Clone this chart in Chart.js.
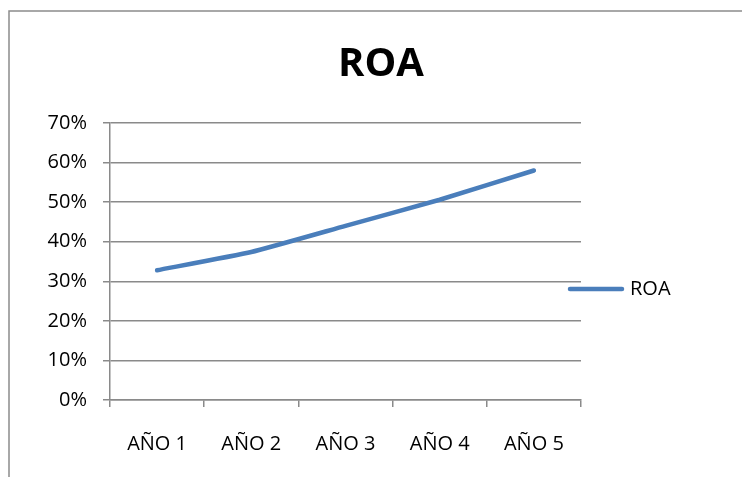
<!DOCTYPE html>
<html>
<head>
<meta charset="utf-8">
<title>ROA</title>
<script src="https://cdn.jsdelivr.net/npm/chart.js@4"></script>
<style>
  body { margin: 0; background: #fff; }
  canvas { display: block; }
</style>
</head>
<body>
<canvas id="roaChart" width="742" height="477"></canvas>
<script>
// Data
const years = ['AÑO 1', 'AÑO 2', 'AÑO 3', 'AÑO 4', 'AÑO 5'];
const roaValues = [32.8, 37.4, 44.0, 50.6, 58.0]; // percent
const seriesName = 'ROA';
const yTicks = [0, 10, 20, 30, 40, 50, 60, 70];

const FONT = '"Open Sans", "Liberation Sans", sans-serif';
const GRID = '#8a8a8a';

// Outer frame of the chart object (Excel style)
const framePlugin = {
    id: 'frame',
    beforeDraw(chart) {
        const c = chart.ctx;
        c.save();
        c.fillStyle = '#fff';
        c.fillRect(0, 0, chart.width, chart.height);
        c.strokeStyle = '#8c8c8c';
        c.lineWidth = 1.5;
        c.beginPath();
        c.moveTo(9, chart.height);
        c.lineTo(9, 11);
        c.lineTo(chart.width, 11);
        c.stroke();
        c.restore();
    }
};

// Legend on the right, overlapping the plot edge like in Excel
const sideLegend = {
    id: 'sideLegend',
    afterDraw(chart) {
        const ds = chart.data.datasets[0];
        const c = chart.ctx;
        const y = 289;
        c.save();
        c.strokeStyle = ds.borderColor;
        c.lineWidth = ds.borderWidth;
        c.lineCap = 'round';
        c.beginPath();
        c.moveTo(570, y);
        c.lineTo(622, y);
        c.stroke();
        c.fillStyle = '#000';
        c.font = '20px ' + FONT;
        c.textBaseline = 'middle';
        c.fillText(ds.label, 630, y);
        c.restore();
    }
};

new Chart(document.getElementById('roaChart'), {
    type: 'line',
    data: {
        labels: years,
        datasets: [{
            label: seriesName,
            data: roaValues,
            borderColor: '#4a7ebb',
            borderWidth: 4.5,
            borderCapStyle: 'round',
            borderJoinStyle: 'round',
            pointRadius: 0,
            tension: 0.15,
            fill: false
        }]
    },
    options: {
        responsive: false,
        animation: false,
        devicePixelRatio: 1,
        layout: { padding: { left: 20, right: 0, top: 0, bottom: 0 } },
        plugins: {
            legend: { display: false },
            tooltip: { enabled: false },
            title: {
                display: true,
                text: 'ROA',
                color: '#000',
                font: { family: FONT, size: 40, weight: 'bold', lineHeight: 1 },
                padding: { top: 45, bottom: 38 }
            }
        },
        scales: {
            x: {
                offset: true,
                grid: {
                    offset: true,
                    drawOnChartArea: false,
                    drawTicks: true,
                    tickLength: 7,
                    color: GRID,
                    lineWidth: 1.5
                },
                border: { color: GRID, width: 1.5 },
                ticks: {
                    color: '#000',
                    font: { family: FONT, size: 20 },
                    padding: 25,
                    maxRotation: 0
                },
                afterFit(scale) { scale.height = 77; }
            },
            y: {
                min: 0,
                max: 70,
                afterBuildTicks(scale) {
                    scale.ticks = yTicks.map(v => ({ value: v }));
                },
                grid: {
                    color: GRID,
                    lineWidth: 1.5,
                    tickLength: 7
                },
                border: { color: GRID, width: 1.5 },
                ticks: {
                    color: '#000',
                    font: { family: FONT, size: 20 },
                    padding: 16,
                    callback: v => v + '%'
                },
                afterFit(scale) { scale.width = 90; }
            },
            // empty box that keeps room for the legend on the right
            legendSpace: {
                type: 'linear',
                position: 'right',
                display: true,
                grid: { display: false, drawOnChartArea: false },
                border: { display: false },
                ticks: { display: false },
                afterFit(scale) { scale.width = 161; }
            }
        }
    },
    plugins: [framePlugin, sideLegend]
});
</script>
</body>
</html>
